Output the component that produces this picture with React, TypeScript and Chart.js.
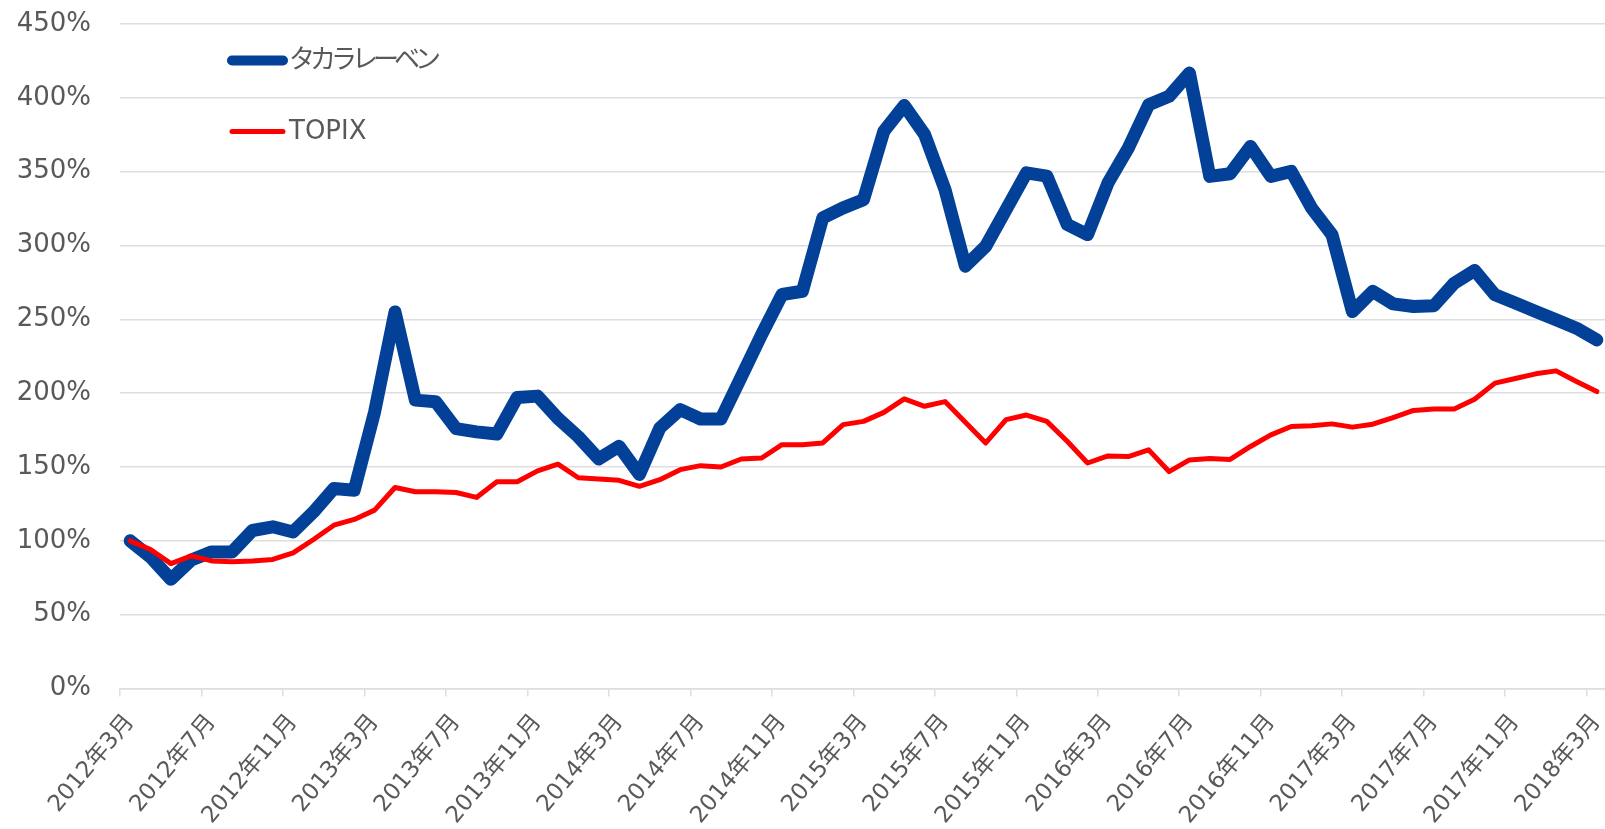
import React, { useEffect, useRef } from "react";
import { Chart, registerables } from "chart.js";

Chart.register(...registerables);

// ---- data ----
const startYear = 2012;
const startMonth = 3;
const monthCount = 73;
const categories: string[] = [];
for (let k = 0; k < monthCount; k++) {
  const m = startMonth - 1 + k;
  categories.push(`${startYear + Math.floor(m / 12)}年${(m % 12) + 1}月`);
}

const takaraLeben: number[] = [
  100, 89, 74, 87, 92.5, 92.5, 107, 109.5, 106, 119.6,
  135.5, 134.3, 187.4, 255, 195.3, 194.2, 176, 173.8, 172.3, 197.1,
  198, 182.9, 170.5, 155.5, 164, 145, 176.4, 188.8, 182.5, 182.5,
  211, 239.7, 266.8, 269, 318.7, 325.5, 331, 377.4, 394.8, 375.2,
  337.9, 286, 299.5, 324.3, 349.2, 347, 314.2, 307.4, 342.3, 366,
  395.3, 401, 416.8, 346.8, 348.6, 367.1, 346.8, 350.2, 325.3, 307.3,
  255.3, 268.9, 260.5, 258.7, 259.2, 274.5, 283.1, 266.6, 261, 255.3,
  249.7, 244, 236.1,
];

const topix: number[] = [
  100, 94.1, 84.6, 89.8, 86.4, 85.8, 86.4, 87.4, 91.9, 100.9,
  110.6, 114.5, 120.8, 136.1, 133.2, 133.2, 132.7, 129.4, 140, 140,
  147.4, 151.9, 142.7, 141.8, 141, 136.9, 141.4, 148.2, 150.9, 150,
  155.4, 156.1, 165.1, 165.1, 166.3, 178.7, 180.9, 187, 196.1, 191.1,
  194.3, 180.3, 166.3, 182.1, 185.2, 180.9, 167.4, 152.7, 157.5, 157.1,
  161.6, 146.9, 154.8, 155.7, 155.1, 163.9, 171.8, 177.4, 177.9, 179.2,
  177, 179, 183.5, 188.3, 189.2, 189.2, 195.9, 206.8, 209.9, 213.1,
  215.1, 207.9, 201.1,
];

const seriesNames: string[] = ["タカラレーベン", "TOPIX"];
const yTicks: number[] = [0, 50, 100, 150, 200, 250, 300, 350, 400, 450];
const labelEvery = 4;

// ---- styles ----
const BLUE = "#034098";
const RED = "#ff0000";
const GRID = "#dedede";
const TEXT = "#595959";
const FONT_FAMILY = "'DejaVu Sans', 'Noto Sans CJK JP', sans-serif";

const inlineLegend = {
  id: "inlineLegend",
  afterDraw(chart: any) {
    const ctx = chart.ctx as CanvasRenderingContext2D;
    const rows = [
      { ds: 0, y: 60.5, lw: 10, spacing: "-5px" },
      { ds: 1, y: 131.5, lw: 5, spacing: "0px" },
    ];
    ctx.save();
    for (const r of rows) {
      const d = chart.data.datasets[r.ds];
      ctx.strokeStyle = d.borderColor;
      ctx.lineWidth = r.lw;
      ctx.lineCap = "round";
      ctx.beginPath();
      ctx.moveTo(232, r.y);
      ctx.lineTo(283, r.y);
      ctx.stroke();
      ctx.fillStyle = TEXT;
      ctx.font = `26px ${FONT_FAMILY}`;
      ctx.textBaseline = "middle";
      ctx.textAlign = "left";
      (ctx as any).letterSpacing = r.spacing;
      ctx.fillText(d.label, 289, r.y + 1);
    }
    ctx.restore();
  },
};

export default function App() {
  const ref = useRef<HTMLCanvasElement | null>(null);

  useEffect(() => {
    if (!ref.current) return;
    const chart = new Chart(ref.current, {
      type: "line",
      data: {
        labels: categories,
        datasets: [
          {
            label: seriesNames[0],
            data: takaraLeben,
            borderColor: BLUE,
            backgroundColor: BLUE,
            borderWidth: 13,
            pointRadius: 0,
            tension: 0,
            borderJoinStyle: "round",
            borderCapStyle: "round",
            order: 1,
          },
          {
            label: seriesNames[1],
            data: topix,
            borderColor: RED,
            backgroundColor: RED,
            borderWidth: 5,
            pointRadius: 0,
            tension: 0,
            borderJoinStyle: "round",
            borderCapStyle: "round",
            order: 0,
          },
        ],
      },
      options: {
        responsive: false,
        maintainAspectRatio: false,
        animation: false,
        devicePixelRatio: 1,
        layout: { padding: { top: 24, left: 0, right: 0, bottom: 0 } },
        plugins: {
          legend: { display: false },
          tooltip: { enabled: false },
        },
        scales: {
          x: {
            type: "category",
            offset: true,
            grid: {
              offset: true,
              drawOnChartArea: false,
              drawTicks: true,
              tickLength: 8,
              lineWidth: 1.5,
              color: (c: any) => (c.index % labelEvery === 0 ? GRID : "rgba(0,0,0,0)"),
            },
            border: { display: true, color: GRID, width: 1.5 },
            ticks: {
              autoSkip: false,
              maxRotation: 50,
              minRotation: 50,
              padding: 20,
              color: TEXT,
              font: { family: FONT_FAMILY, size: 23, lineHeight: 0.2 },
              callback: (_v: any, i: number) => (i % labelEvery === 0 ? categories[i] : ""),
            },
            afterFit: (s: any) => {
              s.height = 140.5;
              s.paddingLeft = 0;
              s.paddingRight = 0;
              s.paddingTop = 0;
              s.paddingBottom = 0;
            },
          },
          y: {
            min: yTicks[0],
            max: yTicks[yTicks.length - 1],
            afterBuildTicks: (s: any) => {
              s.ticks = yTicks.map((v) => ({ value: v }));
            },
            grid: { color: GRID, lineWidth: 1.5, drawTicks: false },
            border: { display: false },
            ticks: {
              padding: 29,
              color: TEXT,
              font: { family: FONT_FAMILY, size: 26 },
              callback: (v: any) => `${v}%`,
            },
            afterFit: (s: any) => {
              s.width = 120;
              s.paddingTop = 0;
              s.paddingBottom = 0;
            },
          },
        },
      },
      plugins: [inlineLegend],
    } as any);
    return () => chart.destroy();
  }, []);

  return (
    <div
      style={{
        position: "fixed",
        left: 0,
        top: 0,
        width: 1605,
        height: 829,
        overflow: "hidden",
        background: "#ffffff",
      }}
    >
      <canvas ref={ref} width={1607} height={829} style={{ width: 1607, height: 829, display: "block" }} />
    </div>
  );
}
